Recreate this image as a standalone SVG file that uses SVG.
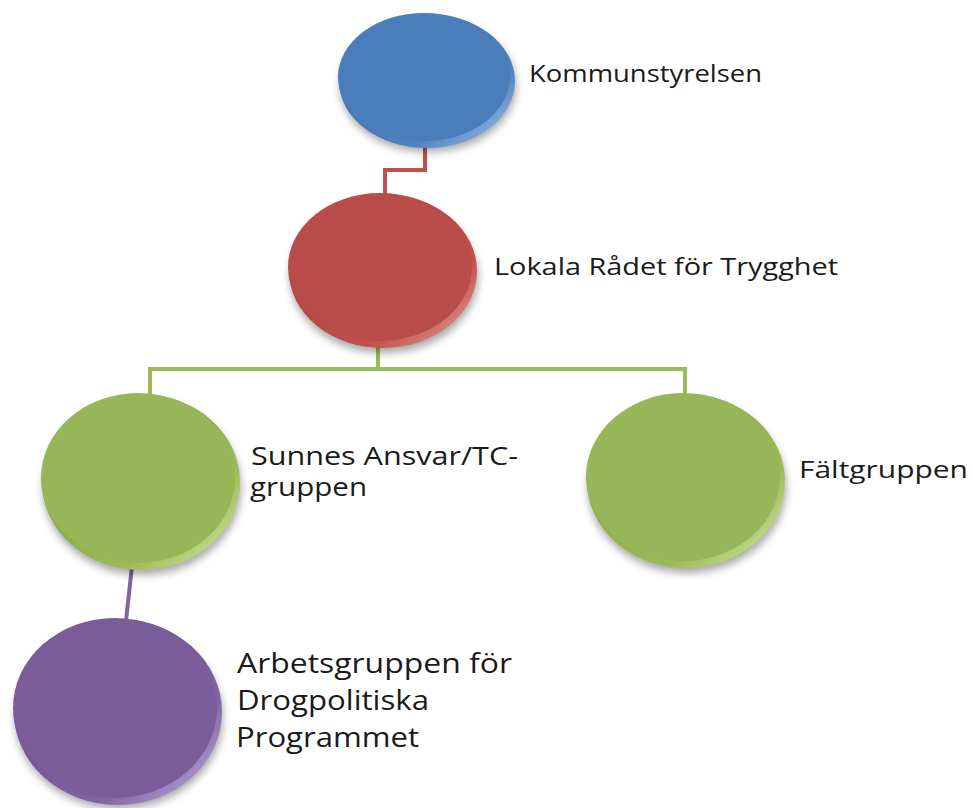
<svg xmlns="http://www.w3.org/2000/svg" width="973" height="808" viewBox="0 0 973 808">
<defs>
<style>
.lbl{font-family:"Open Sans","Liberation Sans",sans-serif;fill:#1a1a1a;}
.shadow{fill:#000;opacity:0.35;filter:url(#blur);}
.conn{fill:none;stroke-width:4;stroke-linejoin:miter;}
</style>
<filter id="blur" x="-20%" y="-20%" width="140%" height="140%"><feGaussianBlur stdDeviation="4"/></filter>
<linearGradient id="gBlue" x1="0" y1="0" x2="1" y2="1"><stop offset="0" stop-color="#3a6aa3"/><stop offset="0.7" stop-color="#4f81bd"/><stop offset="1" stop-color="#a9c6ec"/></linearGradient>
<linearGradient id="gRed" x1="0" y1="0" x2="1" y2="1"><stop offset="0" stop-color="#9c3c39"/><stop offset="0.7" stop-color="#c0504d"/><stop offset="1" stop-color="#eba6a3"/></linearGradient>
<linearGradient id="gGreen" x1="0" y1="0" x2="1" y2="1"><stop offset="0" stop-color="#7c9a40"/><stop offset="0.7" stop-color="#9bbb59"/><stop offset="1" stop-color="#d6eca2"/></linearGradient>
<linearGradient id="gPurple" x1="0" y1="0" x2="1" y2="1"><stop offset="0" stop-color="#5f4682"/><stop offset="0.7" stop-color="#8064a2"/><stop offset="1" stop-color="#c8b4e4"/></linearGradient>
</defs>
<rect width="973" height="808" fill="#ffffff"/>
<g id="connectors">
<path class="conn" stroke="#c0504d" d="M425 146 V170 H385 V196"/>
<path class="conn" stroke="#9bbb59" d="M378 345 V369 M150 396 V369 H685 V396"/>
<path class="conn" stroke="#8064a2" d="M132 566 L126 621"/>
</g>
<g id="kommunstyrelsen">
<ellipse class="shadow" cx="428" cy="86" rx="88" ry="66"/>
<ellipse cx="427" cy="81" rx="88" ry="67" fill="url(#gBlue)"/>
<ellipse cx="424" cy="77" rx="86" ry="64" fill="#4a7ebb"/>
<text class="lbl" x="529" y="82" font-size="24" textLength="233" lengthAdjust="spacingAndGlyphs">Kommunstyrelsen</text>
</g>
<g id="lokala-radet">
<ellipse class="shadow" cx="384" cy="277" rx="94" ry="76"/>
<ellipse cx="383" cy="271" rx="94" ry="77" fill="url(#gRed)"/>
<ellipse cx="380" cy="267" rx="92" ry="74" fill="#b94c49"/>
<text class="lbl" x="494" y="275" font-size="23" textLength="344" lengthAdjust="spacingAndGlyphs">Lokala Rådet för Trygghet</text>
</g>
<g id="sunnes-ansvar">
<ellipse class="shadow" cx="142" cy="488" rx="99" ry="87"/>
<ellipse cx="141" cy="482" rx="99" ry="88" fill="url(#gGreen)"/>
<ellipse cx="138" cy="478" rx="97" ry="85" fill="#97b657"/>
<text class="lbl" x="251" y="465" font-size="26" textLength="267" lengthAdjust="spacingAndGlyphs">Sunnes Ansvar/TC-</text>
<text class="lbl" x="250" y="496" font-size="26" textLength="117" lengthAdjust="spacingAndGlyphs">gruppen</text>
</g>
<g id="faltgruppen">
<ellipse class="shadow" cx="687" cy="487" rx="99" ry="86"/>
<ellipse cx="686" cy="481" rx="99" ry="87" fill="url(#gGreen)"/>
<ellipse cx="683" cy="477" rx="97" ry="84" fill="#97b657"/>
<text class="lbl" x="799" y="478" font-size="24" textLength="169" lengthAdjust="spacingAndGlyphs">Fältgruppen</text>
</g>
<g id="arbetsgruppen">
<ellipse class="shadow" cx="119" cy="718" rx="104" ry="91"/>
<ellipse cx="118" cy="712" rx="104" ry="93" fill="url(#gPurple)"/>
<ellipse cx="115" cy="708" rx="102" ry="90" fill="#7a5c9b"/>
<text class="lbl" x="237" y="673" font-size="28" textLength="275" lengthAdjust="spacingAndGlyphs">Arbetsgruppen för</text>
<text class="lbl" x="237" y="710" font-size="28" textLength="192" lengthAdjust="spacingAndGlyphs">Drogpolitiska</text>
<text class="lbl" x="236" y="747" font-size="28" textLength="183" lengthAdjust="spacingAndGlyphs">Programmet</text>
</g>
</svg>
